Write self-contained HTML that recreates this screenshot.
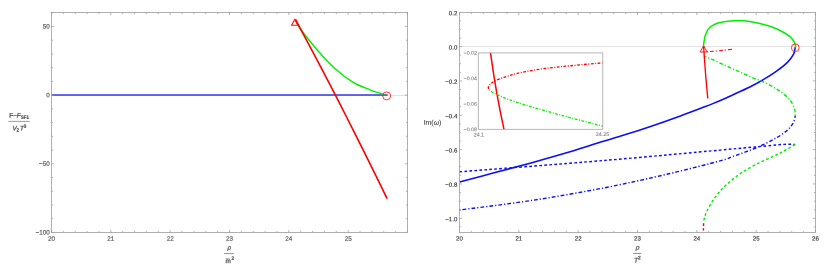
<!DOCTYPE html>
<html><head><meta charset="utf-8"><title>plot</title>
<style>html,body{margin:0;padding:0;background:#fff;}svg{display:block;}body{font-family:"Liberation Sans",sans-serif;}</style></head>
<body>
<svg width="830" height="273" viewBox="0 0 830 273" font-family="Liberation Sans, sans-serif" text-rendering="geometricPrecision">
<defs><filter id="nf" filterUnits="userSpaceOnUse" x="0" y="0" width="830" height="273"><feOffset dx="0" dy="0"/></filter></defs>
<rect width="830" height="273" fill="#fff"/>
<line x1="51.50" y1="95.45" x2="407.50" y2="95.45" stroke="#d4d4d4" stroke-width="0.7"/>
<line x1="51.50" y1="95.05" x2="387.60" y2="95.05" stroke="#3434f2" stroke-width="1.6"/>
<path d="M295.30 20.00 C296.08 21.42 296.45 23.63 300.00 28.50 C303.55 33.37 310.78 42.53 316.60 49.20 C322.42 55.87 328.80 62.97 334.90 68.50 C341.00 74.03 347.35 78.85 353.20 82.40 C359.05 85.95 365.87 88.10 370.00 89.80 C374.13 91.50 375.58 91.80 378.00 92.60 C380.42 93.40 383.42 94.27 384.50 94.60" stroke="#00f000" stroke-width="1.4" fill="none"/>
<path d="M295.50 19.50 L304.24 35.79 L312.89 52.08 L321.46 68.37 L329.96 84.66 L338.36 100.95 L346.69 117.25 L354.94 133.54 L363.10 149.83 L371.18 166.12 L379.18 182.41 L387.10 198.70" stroke="#ff0000" stroke-width="1.6" fill="none"/>
<path d="M294.8 19.3 L298.0 25.2 L291.6 25.2 Z" stroke="#ff0808" stroke-width="1.05" fill="none"/>
<circle cx="386.7" cy="95.9" r="4.0" stroke="#ff1818" stroke-width="0.85" fill="none"/>
<rect x="51.50" y="12.50" width="356.00" height="220.00" fill="none" stroke="#9c9c9c" stroke-width="0.80"/>
<path d="M51.50 232.50v-2.60 M51.50 12.50v2.60 M63.37 232.50v-1.60 M63.37 12.50v1.60 M75.23 232.50v-1.60 M75.23 12.50v1.60 M87.10 232.50v-1.60 M87.10 12.50v1.60 M98.97 232.50v-1.60 M98.97 12.50v1.60 M110.83 232.50v-2.60 M110.83 12.50v2.60 M122.70 232.50v-1.60 M122.70 12.50v1.60 M134.57 232.50v-1.60 M134.57 12.50v1.60 M146.43 232.50v-1.60 M146.43 12.50v1.60 M158.30 232.50v-1.60 M158.30 12.50v1.60 M170.17 232.50v-2.60 M170.17 12.50v2.60 M182.03 232.50v-1.60 M182.03 12.50v1.60 M193.90 232.50v-1.60 M193.90 12.50v1.60 M205.77 232.50v-1.60 M205.77 12.50v1.60 M217.63 232.50v-1.60 M217.63 12.50v1.60 M229.50 232.50v-2.60 M229.50 12.50v2.60 M241.37 232.50v-1.60 M241.37 12.50v1.60 M253.23 232.50v-1.60 M253.23 12.50v1.60 M265.10 232.50v-1.60 M265.10 12.50v1.60 M276.97 232.50v-1.60 M276.97 12.50v1.60 M288.83 232.50v-2.60 M288.83 12.50v2.60 M300.70 232.50v-1.60 M300.70 12.50v1.60 M312.57 232.50v-1.60 M312.57 12.50v1.60 M324.43 232.50v-1.60 M324.43 12.50v1.60 M336.30 232.50v-1.60 M336.30 12.50v1.60 M348.16 232.50v-2.60 M348.16 12.50v2.60 M360.03 232.50v-1.60 M360.03 12.50v1.60 M371.90 232.50v-1.60 M371.90 12.50v1.60 M383.76 232.50v-1.60 M383.76 12.50v1.60 M395.63 232.50v-1.60 M395.63 12.50v1.60 M407.50 232.50v-2.60 M407.50 12.50v2.60 M51.50 232.40h2.60 M407.50 232.40h-2.60 M51.50 218.67h1.60 M407.50 218.67h-1.60 M51.50 204.94h1.60 M407.50 204.94h-1.60 M51.50 191.21h1.60 M407.50 191.21h-1.60 M51.50 177.48h1.60 M407.50 177.48h-1.60 M51.50 163.75h2.60 M407.50 163.75h-2.60 M51.50 150.02h1.60 M407.50 150.02h-1.60 M51.50 136.29h1.60 M407.50 136.29h-1.60 M51.50 122.56h1.60 M407.50 122.56h-1.60 M51.50 108.83h1.60 M407.50 108.83h-1.60 M51.50 95.10h2.60 M407.50 95.10h-2.60 M51.50 81.37h1.60 M407.50 81.37h-1.60 M51.50 67.64h1.60 M407.50 67.64h-1.60 M51.50 53.91h1.60 M407.50 53.91h-1.60 M51.50 40.18h1.60 M407.50 40.18h-1.60 M51.50 26.45h2.60 M407.50 26.45h-2.60 M51.50 12.72h1.60 M407.50 12.72h-1.60 " stroke="#9c9c9c" stroke-width="0.75" fill="none"/>
<line x1="8.3" y1="121.4" x2="29.7" y2="121.4" stroke="#5a5a5a" stroke-width="0.6"/>
<line x1="224.0" y1="253.5" x2="234.0" y2="253.5" stroke="#5a5a5a" stroke-width="0.6"/>
<path d="M225.9 258.9 q1 -0.9 2.1 -0.2 t2.2 -0.2" stroke="#5a5a5a" stroke-width="0.5" fill="none"/>
<line x1="459.50" y1="46.50" x2="815.50" y2="46.50" stroke="#d4d4d4" stroke-width="0.7"/>
<path d="M459.50 181.90 C465.42 180.35 482.93 175.80 495.00 172.60 C507.07 169.40 519.40 166.17 531.90 162.70 C544.40 159.23 558.65 155.20 570.00 151.80 C581.35 148.40 590.73 145.17 600.00 142.30 C609.27 139.43 617.05 137.28 625.60 134.60 C634.15 131.92 642.75 129.10 651.30 126.20 C659.85 123.30 668.78 120.15 676.90 117.20 C685.02 114.25 694.02 110.77 700.00 108.50 C705.98 106.23 708.53 105.32 712.80 103.60 C717.07 101.88 721.32 100.08 725.60 98.20 C729.88 96.32 734.22 94.30 738.50 92.30 C742.78 90.30 747.03 88.38 751.30 86.20 C755.57 84.02 759.83 81.77 764.10 79.20 C768.37 76.63 773.05 73.57 776.90 70.80 C780.75 68.03 784.42 65.38 787.20 62.60 C789.98 59.82 792.25 56.67 793.60 54.10 C794.95 51.53 795.02 48.35 795.30 47.20" stroke="#0c0cf6" stroke-width="1.55" fill="none"/>
<path d="M459.50 171.80 C483.75 169.90 561.58 164.02 605.00 160.40 C648.42 156.78 696.57 152.20 720.00 150.10 C743.43 148.00 737.05 148.57 745.60 147.80 C754.15 147.03 764.88 146.07 771.30 145.50 C777.72 144.93 780.13 144.58 784.10 144.40 C788.07 144.22 793.27 144.40 795.10 144.40" stroke="#0c0cf6" stroke-width="1.45" fill="none" stroke-dasharray="2.7 2.3"/>
<path d="M795.10 144.60 C793.42 145.58 788.50 148.60 785.00 150.50 C781.50 152.40 778.52 153.90 774.10 156.00 C769.68 158.10 763.68 160.47 758.50 163.10 C753.32 165.73 747.67 168.78 743.00 171.80 C738.33 174.82 734.13 178.18 730.50 181.20 C726.87 184.22 724.05 186.80 721.20 189.90 C718.35 193.00 715.75 196.33 713.40 199.80 C711.05 203.27 708.60 207.67 707.10 210.70 C705.60 213.73 704.97 216.07 704.40 218.00 C703.83 219.93 703.82 221.58 703.70 222.30" stroke="#00f000" stroke-width="1.45" fill="none" stroke-dasharray="2.7 2.3"/>
<path d="M703.6 223.2 L703.4 230.6" stroke="#ff0000" stroke-width="1.45" fill="none" stroke-dasharray="2.7 2.3"/>
<path d="M459.50 210.00 C471.57 208.40 507.65 204.12 531.90 200.40 C556.15 196.68 581.98 192.18 605.00 187.70 C628.02 183.22 650.83 177.97 670.00 173.50 C689.17 169.03 709.53 163.73 720.00 160.90 C730.47 158.07 728.53 158.00 732.80 156.50 C737.07 155.00 741.32 153.52 745.60 151.90 C749.88 150.28 754.22 148.68 758.50 146.80 C762.78 144.92 767.67 142.48 771.30 140.60 C774.93 138.72 777.53 137.33 780.30 135.50 C783.07 133.67 785.77 131.65 787.90 129.60 C790.03 127.55 791.90 125.33 793.10 123.20 C794.30 121.07 794.75 118.08 795.10 116.80 C795.45 115.52 795.18 115.72 795.20 115.50" stroke="#0c0cf6" stroke-width="1.4" fill="none" stroke-dasharray="1.2 2.0 3.8 2.0"/>
<path d="M795.20 115.50 C795.15 114.65 795.47 112.53 794.90 110.40 C794.33 108.27 793.08 104.93 791.80 102.70 C790.52 100.47 789.68 99.25 787.20 97.00 C784.72 94.75 780.75 91.65 776.90 89.20 C773.05 86.75 768.37 84.30 764.10 82.30 C759.83 80.30 755.57 79.03 751.30 77.20 C747.03 75.37 742.78 73.23 738.50 71.30 C734.22 69.37 729.88 67.53 725.60 65.60 C721.32 63.67 716.43 61.32 712.80 59.70 C709.17 58.08 705.30 56.53 703.80 55.90" stroke="#00f000" stroke-width="1.4" fill="none" stroke-dasharray="1.2 2.0 3.8 2.0"/>
<path d="M707.0 51.8 Q718 51.0 732.2 49.3" stroke="#ff0000" stroke-width="1.1" fill="none" stroke-dasharray="1.2 2.0 3.8 2.0"/>
<path d="M703.6 46 Q705.4 75 707.8 98.5" stroke="#ff0000" stroke-width="1.35" fill="none"/>
<path d="M703.50 45.60 C703.63 44.67 703.98 41.72 704.30 40.00 C704.62 38.28 704.80 37.03 705.40 35.30 C706.00 33.57 706.73 31.22 707.90 29.60 C709.07 27.98 710.58 26.73 712.40 25.60 C714.22 24.47 716.22 23.52 718.80 22.80 C721.38 22.08 724.55 21.67 727.90 21.30 C731.25 20.93 735.23 20.57 738.90 20.60 C742.57 20.63 746.23 20.98 749.90 21.50 C753.57 22.02 757.23 22.78 760.90 23.70 C764.57 24.62 768.55 25.78 771.90 27.00 C775.25 28.22 778.15 29.53 781.00 31.00 C783.85 32.47 786.97 34.27 789.00 35.80 C791.03 37.33 792.18 38.75 793.20 40.20 C794.22 41.65 794.72 43.37 795.10 44.50 C795.48 45.63 795.43 46.58 795.50 47.00" stroke="#00f000" stroke-width="1.5" fill="none"/>
<path d="M703.6 45.7 L707.1 52.0 L700.2 52.0 Z" stroke="#ff0808" stroke-width="0.9" fill="none"/>
<circle cx="795.3" cy="47.8" r="3.9" stroke="#ff1818" stroke-width="0.85" fill="none"/>
<rect x="459.50" y="12.50" width="356.00" height="220.00" fill="none" stroke="#9c9c9c" stroke-width="0.80"/>
<path d="M459.50 232.50v-2.60 M459.50 12.50v2.60 M471.37 232.50v-1.60 M471.37 12.50v1.60 M483.23 232.50v-1.60 M483.23 12.50v1.60 M495.10 232.50v-1.60 M495.10 12.50v1.60 M506.97 232.50v-1.60 M506.97 12.50v1.60 M518.83 232.50v-2.60 M518.83 12.50v2.60 M530.70 232.50v-1.60 M530.70 12.50v1.60 M542.57 232.50v-1.60 M542.57 12.50v1.60 M554.43 232.50v-1.60 M554.43 12.50v1.60 M566.30 232.50v-1.60 M566.30 12.50v1.60 M578.17 232.50v-2.60 M578.17 12.50v2.60 M590.03 232.50v-1.60 M590.03 12.50v1.60 M601.90 232.50v-1.60 M601.90 12.50v1.60 M613.77 232.50v-1.60 M613.77 12.50v1.60 M625.63 232.50v-1.60 M625.63 12.50v1.60 M637.50 232.50v-2.60 M637.50 12.50v2.60 M649.37 232.50v-1.60 M649.37 12.50v1.60 M661.23 232.50v-1.60 M661.23 12.50v1.60 M673.10 232.50v-1.60 M673.10 12.50v1.60 M684.97 232.50v-1.60 M684.97 12.50v1.60 M696.83 232.50v-2.60 M696.83 12.50v2.60 M708.70 232.50v-1.60 M708.70 12.50v1.60 M720.57 232.50v-1.60 M720.57 12.50v1.60 M732.43 232.50v-1.60 M732.43 12.50v1.60 M744.30 232.50v-1.60 M744.30 12.50v1.60 M756.16 232.50v-2.60 M756.16 12.50v2.60 M768.03 232.50v-1.60 M768.03 12.50v1.60 M779.90 232.50v-1.60 M779.90 12.50v1.60 M791.76 232.50v-1.60 M791.76 12.50v1.60 M803.63 232.50v-1.60 M803.63 12.50v1.60 M815.50 232.50v-2.60 M815.50 12.50v2.60 M459.50 226.88h1.60 M815.50 226.88h-1.60 M459.50 218.30h2.60 M815.50 218.30h-2.60 M459.50 209.72h1.60 M815.50 209.72h-1.60 M459.50 201.13h1.60 M815.50 201.13h-1.60 M459.50 192.54h1.60 M815.50 192.54h-1.60 M459.50 183.96h2.60 M815.50 183.96h-2.60 M459.50 175.37h1.60 M815.50 175.37h-1.60 M459.50 166.79h1.60 M815.50 166.79h-1.60 M459.50 158.20h1.60 M815.50 158.20h-1.60 M459.50 149.62h2.60 M815.50 149.62h-2.60 M459.50 141.03h1.60 M815.50 141.03h-1.60 M459.50 132.45h1.60 M815.50 132.45h-1.60 M459.50 123.87h1.60 M815.50 123.87h-1.60 M459.50 115.28h2.60 M815.50 115.28h-2.60 M459.50 106.69h1.60 M815.50 106.69h-1.60 M459.50 98.11h1.60 M815.50 98.11h-1.60 M459.50 89.53h1.60 M815.50 89.53h-1.60 M459.50 80.94h2.60 M815.50 80.94h-2.60 M459.50 72.36h1.60 M815.50 72.36h-1.60 M459.50 63.77h1.60 M815.50 63.77h-1.60 M459.50 55.19h1.60 M815.50 55.19h-1.60 M459.50 46.60h2.60 M815.50 46.60h-2.60 M459.50 38.02h1.60 M815.50 38.02h-1.60 M459.50 29.43h1.60 M815.50 29.43h-1.60 M459.50 20.84h1.60 M815.50 20.84h-1.60 " stroke="#9c9c9c" stroke-width="0.75" fill="none"/>
<line x1="633.1" y1="253.4" x2="641.2" y2="253.4" stroke="#5a5a5a" stroke-width="0.7"/>
<rect x="463.30" y="49.90" width="148.50" height="86.40" fill="#fff" stroke="none"/>
<path d="M490.5 52.9 Q496.3 95 504.0 129.3" stroke="#ff0000" stroke-width="1.5" fill="none"/>
<path d="M602.80 62.80 C597.33 63.30 579.63 64.85 570.00 65.80 C560.37 66.75 552.58 67.50 545.00 68.50 C537.42 69.50 530.67 70.55 524.50 71.80 C518.33 73.05 512.95 74.47 508.00 76.00 C503.05 77.53 497.88 79.50 494.80 81.00 C491.72 82.50 490.58 83.90 489.50 85.00 C488.42 86.10 488.35 86.80 488.30 87.60 C488.25 88.40 489.05 89.43 489.20 89.80" stroke="#ff0000" stroke-width="1.3" fill="none" stroke-dasharray="1 1.5 2.8 1.5"/>
<path d="M489.20 89.80 C489.67 90.17 490.52 91.10 492.00 92.00 C493.48 92.90 495.43 94.00 498.10 95.20 C500.77 96.40 503.60 97.60 508.00 99.20 C512.40 100.80 518.33 102.88 524.50 104.80 C530.67 106.72 537.42 108.57 545.00 110.70 C552.58 112.83 560.37 115.02 570.00 117.60 C579.63 120.18 597.33 124.77 602.80 126.20" stroke="#00f000" stroke-width="1.3" fill="none" stroke-dasharray="1 1.5 2.8 1.5"/>
<rect x="478.30" y="52.90" width="124.50" height="76.40" fill="none" stroke="#a4a4a4" stroke-width="0.8"/>
<g filter="url(#nf)">
<text x="51.50" y="240.70" transform="rotate(0.03 51.50 240.70)" text-anchor="middle" font-size="6.30" fill="#5c5c5c" stroke="#5c5c5c" stroke-width="0.2">20</text>
<text x="110.83" y="240.70" transform="rotate(0.03 110.83 240.70)" text-anchor="middle" font-size="6.30" fill="#5c5c5c" stroke="#5c5c5c" stroke-width="0.2">21</text>
<text x="170.17" y="240.70" transform="rotate(0.03 170.17 240.70)" text-anchor="middle" font-size="6.30" fill="#5c5c5c" stroke="#5c5c5c" stroke-width="0.2">22</text>
<text x="229.50" y="240.70" transform="rotate(0.03 229.50 240.70)" text-anchor="middle" font-size="6.30" fill="#5c5c5c" stroke="#5c5c5c" stroke-width="0.2">23</text>
<text x="288.83" y="240.70" transform="rotate(0.03 288.83 240.70)" text-anchor="middle" font-size="6.30" fill="#5c5c5c" stroke="#5c5c5c" stroke-width="0.2">24</text>
<text x="348.16" y="240.70" transform="rotate(0.03 348.16 240.70)" text-anchor="middle" font-size="6.30" fill="#5c5c5c" stroke="#5c5c5c" stroke-width="0.2">25</text>
<text x="49.80" y="28.55" transform="rotate(0.03 49.80 28.55)" text-anchor="end" font-size="6.30" fill="#5c5c5c" stroke="#5c5c5c" stroke-width="0.2">50</text>
<text x="49.80" y="97.20" transform="rotate(0.03 49.80 97.20)" text-anchor="end" font-size="6.30" fill="#5c5c5c" stroke="#5c5c5c" stroke-width="0.2">0</text>
<text x="49.80" y="165.85" transform="rotate(0.03 49.80 165.85)" text-anchor="end" font-size="6.30" fill="#5c5c5c" stroke="#5c5c5c" stroke-width="0.2">−50</text>
<text x="49.80" y="234.50" transform="rotate(0.03 49.80 234.50)" text-anchor="end" font-size="6.30" fill="#5c5c5c" stroke="#5c5c5c" stroke-width="0.2">−100</text>
<text x="19.20" y="117.45" transform="rotate(0.03 19.20 117.45)" text-anchor="middle" font-size="6.30" fill="#5a5a5a" stroke="#5a5a5a" stroke-width="0.32">F−<tspan font-style="italic">F</tspan><tspan font-size="4.6" dy="1.3">SF1</tspan></text>
<text x="19.40" y="130.30" transform="rotate(0.03 19.40 130.30)" text-anchor="middle" font-size="6.30" fill="#5a5a5a" stroke="#5a5a5a" stroke-width="0.32"><tspan font-style="italic">V</tspan><tspan font-size="4.6" dy="1.3">2</tspan><tspan dy="-1.3" dx="0.8" font-style="italic">T</tspan><tspan font-size="4.6" dy="-2.6">3</tspan></text>
<text x="229.40" y="249.60" transform="rotate(0.03 229.40 249.60)" text-anchor="middle" font-size="6.30" fill="#5a5a5a" stroke="#5a5a5a" stroke-width="0.32"><tspan font-style="italic">ρ</tspan></text>
<text x="228.20" y="263.10" transform="rotate(0.03 228.20 263.10)" text-anchor="middle" font-size="6.30" fill="#5a5a5a" stroke="#5a5a5a" stroke-width="0.32">m</text>
<text x="232.70" y="259.70" transform="rotate(0.03 232.70 259.70)" text-anchor="middle" font-size="4.60" fill="#5a5a5a" stroke="#5a5a5a" stroke-width="0.32">2</text>
<text x="459.50" y="240.60" transform="rotate(0.03 459.50 240.60)" text-anchor="middle" font-size="6.10" fill="#333" stroke="#333" stroke-width="0.15">20</text>
<text x="518.83" y="240.60" transform="rotate(0.03 518.83 240.60)" text-anchor="middle" font-size="6.10" fill="#333" stroke="#333" stroke-width="0.15">21</text>
<text x="578.17" y="240.60" transform="rotate(0.03 578.17 240.60)" text-anchor="middle" font-size="6.10" fill="#333" stroke="#333" stroke-width="0.15">22</text>
<text x="637.50" y="240.60" transform="rotate(0.03 637.50 240.60)" text-anchor="middle" font-size="6.10" fill="#333" stroke="#333" stroke-width="0.15">23</text>
<text x="696.83" y="240.60" transform="rotate(0.03 696.83 240.60)" text-anchor="middle" font-size="6.10" fill="#333" stroke="#333" stroke-width="0.15">24</text>
<text x="756.16" y="240.60" transform="rotate(0.03 756.16 240.60)" text-anchor="middle" font-size="6.10" fill="#333" stroke="#333" stroke-width="0.15">25</text>
<text x="815.50" y="240.60" transform="rotate(0.03 815.50 240.60)" text-anchor="middle" font-size="6.10" fill="#333" stroke="#333" stroke-width="0.15">26</text>
<text x="457.30" y="15.16" transform="rotate(0.03 457.30 15.16)" text-anchor="end" font-size="6.10" fill="#333" stroke="#333" stroke-width="0.15">0.2</text>
<text x="457.30" y="49.50" transform="rotate(0.03 457.30 49.50)" text-anchor="end" font-size="6.10" fill="#333" stroke="#333" stroke-width="0.15">0.0</text>
<text x="457.30" y="83.84" transform="rotate(0.03 457.30 83.84)" text-anchor="end" font-size="6.10" fill="#333" stroke="#333" stroke-width="0.15">−0.2</text>
<text x="457.30" y="118.18" transform="rotate(0.03 457.30 118.18)" text-anchor="end" font-size="6.10" fill="#333" stroke="#333" stroke-width="0.15">−0.4</text>
<text x="457.30" y="152.52" transform="rotate(0.03 457.30 152.52)" text-anchor="end" font-size="6.10" fill="#333" stroke="#333" stroke-width="0.15">−0.6</text>
<text x="457.30" y="186.86" transform="rotate(0.03 457.30 186.86)" text-anchor="end" font-size="6.10" fill="#333" stroke="#333" stroke-width="0.15">−0.8</text>
<text x="457.30" y="221.20" transform="rotate(0.03 457.30 221.20)" text-anchor="end" font-size="6.10" fill="#333" stroke="#333" stroke-width="0.15">−1.0</text>
<text x="432.50" y="124.70" transform="rotate(0.03 432.50 124.70)" text-anchor="middle" font-size="6.90" fill="#444" stroke="#444" stroke-width="0.12">Im(<tspan font-style="italic">ω</tspan>)</text>
<text x="637.60" y="249.50" transform="rotate(0.03 637.60 249.50)" text-anchor="middle" font-size="6.50" fill="#5a5a5a" stroke="#5a5a5a" stroke-width="0.32"><tspan font-style="italic">ρ</tspan></text>
<text x="637.40" y="262.60" transform="rotate(0.03 637.40 262.60)" text-anchor="middle" font-size="6.70" fill="#5a5a5a" stroke="#5a5a5a" stroke-width="0.32"><tspan font-style="italic">T</tspan><tspan font-size="4.8" dy="-3.4">2</tspan></text>
<text x="477.00" y="54.80" transform="rotate(0.03 477.00 54.80)" text-anchor="end" font-size="5.30" fill="#858585" stroke="#858585" stroke-width="0.1">−0.02</text>
<text x="477.00" y="80.30" transform="rotate(0.03 477.00 80.30)" text-anchor="end" font-size="5.30" fill="#858585" stroke="#858585" stroke-width="0.1">−0.04</text>
<text x="477.00" y="105.70" transform="rotate(0.03 477.00 105.70)" text-anchor="end" font-size="5.30" fill="#858585" stroke="#858585" stroke-width="0.1">−0.06</text>
<text x="477.00" y="131.20" transform="rotate(0.03 477.00 131.20)" text-anchor="end" font-size="5.30" fill="#858585" stroke="#858585" stroke-width="0.1">−0.08</text>
<text x="478.90" y="136.40" transform="rotate(0.03 478.90 136.40)" text-anchor="middle" font-size="5.30" fill="#858585" stroke="#858585" stroke-width="0.1">24.1</text>
<text x="602.50" y="136.40" transform="rotate(0.03 602.50 136.40)" text-anchor="middle" font-size="5.30" fill="#858585" stroke="#858585" stroke-width="0.1">24.25</text>
</g>
</svg>
</body></html>
